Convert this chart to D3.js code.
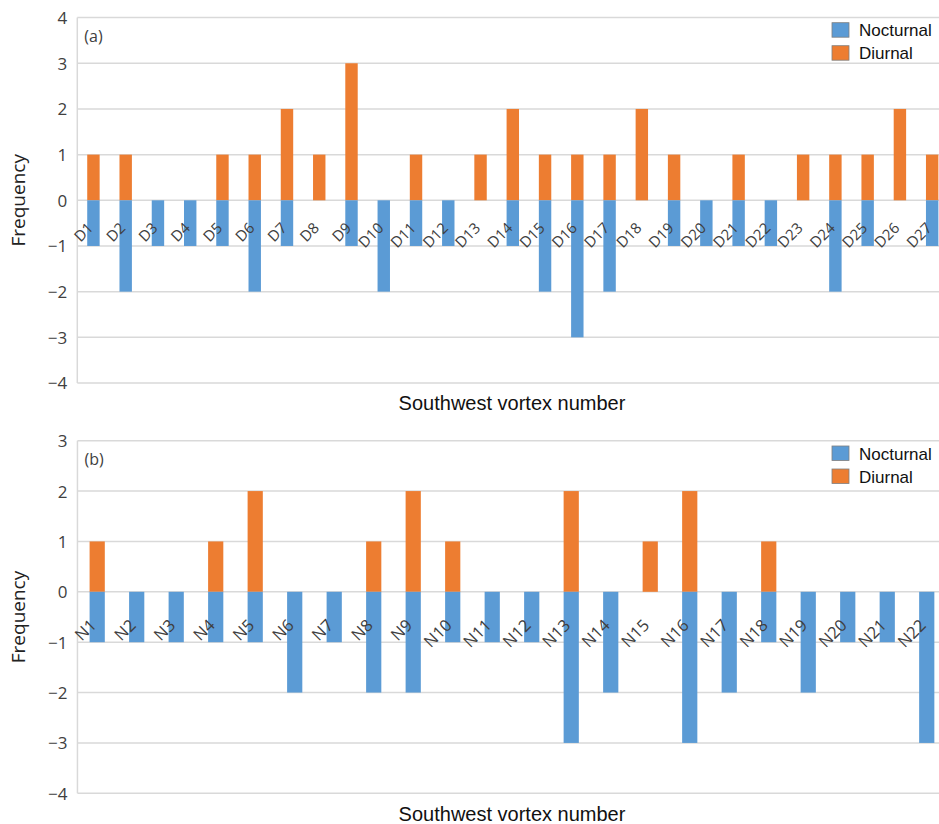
<!DOCTYPE html>
<html>
<head>
<meta charset="utf-8">
<script src="https://cdn.jsdelivr.net/npm/d3@7"></script>
<style>
  html, body { margin: 0; padding: 0; background: #fff; overflow: hidden; }
  svg { display: block; }
</style>
</head>
<body>
<svg id="chart" width="939" height="824"></svg>
<script>
// ---- Data ----
const catsA = ["D1","D2","D3","D4","D5","D6","D7","D8","D9","D10","D11","D12","D13","D14","D15","D16","D17","D18","D19","D20","D21","D22","D23","D24","D25","D26","D27"];
const nocturnalA = [-1,-2,-1,-1,-1,-2,-1,0,-1,-2,-1,-1,0,-1,-2,-3,-2,0,-1,-1,-1,-1,0,-2,-1,0,-1];
const diurnalA   = [1,1,0,0,1,1,2,1,3,0,1,0,1,2,1,1,1,2,1,0,1,0,1,1,1,2,1];
const ticksA = [-4,-3,-2,-1,0,1,2,3,4];

const catsB = ["N1","N2","N3","N4","N5","N6","N7","N8","N9","N10","N11","N12","N13","N14","N15","N16","N17","N18","N19","N20","N21","N22"];
const nocturnalB = [-1,-1,-1,-1,-1,-2,-1,-2,-2,-1,-1,-1,-3,-2,0,-3,-2,-1,-2,-1,-1,-3];
const diurnalB   = [1,0,0,1,2,0,0,1,2,1,0,0,2,0,1,2,0,1,0,0,0,0];
const ticksB = [-4,-3,-2,-1,0,1,2,3];

const seriesNames = ["Nocturnal","Diurnal"];
const colors = {Nocturnal: "#5b9bd5", Diurnal: "#ed7d31"};

const svg = d3.select("#chart");

function panel(cfg) {
  const g = svg.append("g");
  const x = d3.scaleBand().domain(cfg.cats).range([cfg.left, cfg.right]).paddingInner(0.615).paddingOuter(0.3075);
  const y = d3.scaleLinear().domain([cfg.ticks[0], cfg.ticks[cfg.ticks.length-1]]).range([cfg.bottom, cfg.top]);

  // gridlines
  g.append("g").selectAll("line").data(cfg.ticks).join("line")
    .attr("x1", cfg.left).attr("x2", cfg.right)
    .attr("y1", d => y(d)).attr("y2", d => y(d))
    .attr("stroke", "#d9d9d9").attr("stroke-width", 1.5);
  // left border
  g.append("line").attr("x1", cfg.left).attr("x2", cfg.left)
    .attr("y1", cfg.top).attr("y2", cfg.bottom)
    .attr("stroke", "#d9d9d9").attr("stroke-width", 1.5);

  // y axis labels
  const yAxis = d3.axisLeft(y).tickValues(cfg.ticks).tickSize(0).tickPadding(10)
    .tickFormat(d => d < 0 ? "\u2212" + Math.abs(d) : String(d));
  const ya = g.append("g").attr("transform", `translate(${cfg.left},0)`).call(yAxis);
  ya.select(".domain").remove();
  ya.selectAll("text").attr("font-family", "'Open Sans', sans-serif").attr("font-size", 17)
    .attr("fill", "#404040").attr("dy", "0.35em");

  // bars
  const bw = x.bandwidth();
  const data = cfg.cats.map((c, i) => ({c, n: cfg.noct[i], d: cfg.diur[i]}));
  g.append("g").selectAll("rect").data(data.filter(d => d.d !== 0)).join("rect")
    .attr("x", d => x(d.c)).attr("width", bw)
    .attr("y", d => y(d.d)).attr("height", d => y(0) - y(d.d))
    .attr("fill", colors.Diurnal);
  g.append("g").selectAll("rect").data(data.filter(d => d.n !== 0)).join("rect")
    .attr("x", d => x(d.c)).attr("width", bw)
    .attr("y", y(0)).attr("height", d => y(d.n) - y(0))
    .attr("fill", colors.Nocturnal);

  // category labels
  g.append("g").selectAll("text").data(cfg.cats).join("text")
    .attr("transform", d => `translate(${x(d) + bw/2 + cfg.lblDx},${y(0) + cfg.lblDy}) rotate(-45)`)
    .attr("text-anchor", "end").attr("dominant-baseline", "central")
    .attr("font-family", "'Open Sans', sans-serif").attr("font-size", cfg.lblSize)
    .attr("fill", "#404040")
    .text(d => d);

  // panel tag
  g.append("text").attr("x", cfg.left + 7).attr("y", cfg.tagY)
    .attr("font-family", "'Open Sans', sans-serif").attr("font-size", 16).attr("fill", "#404040")
    .text(cfg.tag);

  // y title
  const ymid = (cfg.top + cfg.bottom) / 2;
  g.append("text").attr("transform", `translate(18,${ymid}) rotate(-90)`)
    .attr("text-anchor", "middle").attr("dominant-baseline", "central")
    .attr("font-family", "'Open Sans', sans-serif").attr("font-size", 19).attr("fill", "#222")
    .text("Frequency");

  // x title
  g.append("text").attr("x", 512).attr("y", cfg.xTitleY)
    .attr("text-anchor", "middle")
    .attr("font-family", "'Liberation Sans', Arial, sans-serif").attr("font-size", 20).attr("fill", "#111")
    .text("Southwest vortex number");

  // legend
  const lg = g.append("g").attr("transform", `translate(832,${cfg.legY})`);
  seriesNames.forEach((s, i) => {
    lg.append("rect").attr("x", 0).attr("y", i * 23).attr("width", 17).attr("height", 14.5)
      .attr("fill", colors[s]).attr("stroke", "#7f7f7f").attr("stroke-width", 0.8);
    lg.append("text").attr("x", 27).attr("y", i * 23 + 13.5)
      .attr("font-family", "'Liberation Sans', Arial, sans-serif").attr("font-size", 17).attr("fill", "#111")
      .text(s);
  });
}

panel({cats: catsA, noct: nocturnalA, diur: diurnalA, ticks: ticksA,
  left: 77.3, right: 948.3, top: 17.6, bottom: 383,
  lblDx: -3.5, lblDy: 24.5, lblSize: 15, tag: "(a)", tagY: 42, xTitleY: 410, legY: 22.7});

panel({cats: catsB, noct: nocturnalB, diur: diurnalB, ticks: ticksB,
  left: 77.45, right: 946.5, top: 440.7, bottom: 793.3,
  lblDx: -4.5, lblDy: 30, lblSize: 16.5, tag: "(b)", tagY: 465, xTitleY: 821, legY: 446});
</script>
</body>
</html>
